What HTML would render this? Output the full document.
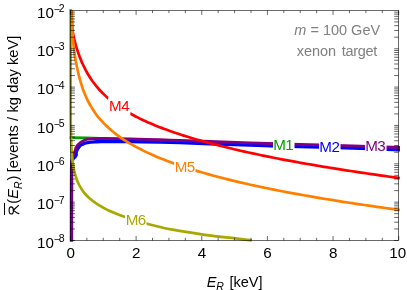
<!DOCTYPE html><html><head><meta charset="utf-8"><style>
html,body{margin:0;padding:0;background:#fff;}
#c{will-change:transform;position:relative;width:407px;height:290px;overflow:hidden;background:#fff;font-family:"Liberation Sans",sans-serif;color:#000;}
.t{position:absolute;white-space:nowrap;line-height:1;}
.xl{font-size:15.2px;transform:translateX(-50%);top:245.1px;}
.yl{font-size:15.2px;right:342.4px;}
.yl sup{font-size:10.5px;vertical-align:baseline;position:relative;top:-5.7px;margin-left:-0.1px}.yl sup b{font-weight:normal;margin-right:-1.2px;position:relative;top:0.5px}
.lab{font-size:15.2px;transform:translate(-50%,-50%);background:#fff;width:21.4px;height:17px;line-height:17px;text-align:center;letter-spacing:-0.5px;text-indent:-0.5px;box-shadow:0 2px 0 #fff;}
</style></head><body><div id="c">
<svg width="407" height="290" viewBox="0 0 407 290" style="position:absolute;left:0;top:0">
<rect x="0" y="0" width="407" height="290" fill="#fff"/>
<g fill="none" stroke-width="2.7" stroke-linejoin="round">
<path d="M69.50,137.60 C74.58,137.72 91.92,138.07 100.00,138.30 C108.08,138.53 115.00,138.88 118.00,139.00" stroke="#00a000" stroke-width="2.7"/>
<path d="M71.50,241.50 C71.50,234.58 71.48,211.92 71.50,200.00 C71.52,188.08 71.53,176.17 71.60,170.00 C71.67,163.83 71.68,164.83 71.90,163.00 C72.12,161.17 72.35,160.07 72.90,159.00 C73.45,157.93 74.65,157.28 75.20,156.60 C75.75,155.92 76.05,155.57 76.20,154.90 C76.35,154.23 75.92,153.48 76.10,152.60 C76.28,151.72 76.83,150.53 77.30,149.60 C77.77,148.67 78.28,147.78 78.90,147.00 C79.52,146.22 80.18,145.45 81.00,144.90 C81.82,144.35 82.72,144.07 83.80,143.70 C84.88,143.32 85.68,142.96 87.50,142.65 C89.32,142.34 92.35,142.03 94.70,141.85 C97.05,141.67 95.72,141.61 101.60,141.55 C107.48,141.49 120.27,141.42 130.00,141.50 C139.73,141.58 151.67,141.86 160.00,142.05 C168.33,142.24 171.67,142.38 180.00,142.65 C188.33,142.93 198.33,143.28 210.00,143.70 C221.67,144.12 235.00,144.67 250.00,145.15 C265.00,145.63 284.17,146.14 300.00,146.60 C315.83,147.06 328.33,147.38 345.00,147.90 C361.67,148.42 390.83,149.40 400.00,149.70" stroke="#0000ff" stroke-width="3.4"/>
<path d="M71.50,241.60 C71.50,234.67 71.48,212.77 71.50,200.00 C71.52,187.23 71.43,172.00 71.60,165.00 C71.77,158.00 72.10,159.90 72.50,158.00 C72.90,156.10 73.58,154.77 74.00,153.60 C74.42,152.43 74.60,152.15 75.00,151.00 C75.40,149.85 75.45,148.13 76.40,146.70 C77.35,145.27 79.38,143.46 80.70,142.40 C82.02,141.34 83.12,140.88 84.30,140.35 C85.48,139.82 86.10,139.47 87.80,139.20 C89.50,138.93 92.20,138.87 94.50,138.75 C96.80,138.63 98.18,138.53 101.60,138.50 C105.02,138.47 110.27,138.53 115.00,138.60 C119.73,138.67 122.50,138.71 130.00,138.90 C137.50,139.09 151.67,139.50 160.00,139.75 C168.33,140.00 171.67,140.11 180.00,140.40 C188.33,140.69 198.33,141.07 210.00,141.50 C221.67,141.93 235.00,142.47 250.00,142.95 C265.00,143.43 284.17,143.94 300.00,144.40 C315.83,144.86 328.33,145.18 345.00,145.70 C361.67,146.22 390.83,147.20 400.00,147.50" stroke="#800080" stroke-width="2.8"/>
<path d="M71.80,10.00 C71.83,11.67 71.89,16.67 72.00,20.00 C72.11,23.33 72.27,27.67 72.46,30.00 C72.65,32.33 72.90,32.67 73.15,34.00 C73.41,35.33 73.69,36.68 73.99,38.00 C74.29,39.32 74.60,40.60 74.93,41.90 C75.26,43.20 75.61,44.50 75.98,45.80 C76.35,47.10 76.76,48.42 77.17,49.70 C77.58,50.98 78.00,52.23 78.45,53.50 C78.90,54.77 79.37,56.03 79.86,57.30 C80.35,58.57 80.87,59.85 81.40,61.10 C81.93,62.35 82.49,63.58 83.06,64.80 C83.63,66.02 84.21,67.20 84.82,68.40 C85.43,69.60 86.07,70.82 86.73,72.00 C87.39,73.18 88.08,74.35 88.78,75.50 C89.48,76.65 90.21,77.78 90.96,78.90 C91.71,80.02 92.47,81.12 93.27,82.20 C94.06,83.28 94.89,84.35 95.73,85.40 C96.57,86.45 97.44,87.48 98.33,88.50 C99.22,89.52 100.15,90.52 101.09,91.50 C102.03,92.48 103.00,93.45 103.98,94.40 C104.97,95.35 105.97,96.28 107.00,97.20 C108.03,98.12 109.11,99.03 110.16,99.90 C111.21,100.77 112.25,101.58 113.31,102.40 C114.37,103.22 115.45,104.02 116.54,104.80 C117.63,105.58 118.74,106.35 119.86,107.10 C120.98,107.85 122.11,108.58 123.24,109.30 C124.37,110.02 125.48,110.70 126.66,111.40 C127.83,112.10 129.07,112.82 130.29,113.50 C131.50,114.18 132.73,114.85 133.95,115.50 C135.17,116.15 136.39,116.78 137.61,117.40 C138.83,118.02 140.01,118.60 141.26,119.20 C142.51,119.80 143.83,120.42 145.10,121.00 C146.37,121.58 147.64,122.15 148.90,122.70 C150.16,123.25 151.37,123.77 152.64,124.30 C153.91,124.83 155.26,125.38 156.54,125.90 C157.82,126.42 159.05,126.90 160.34,127.40 C161.63,127.90 163.00,128.42 164.29,128.90 C165.58,129.38 166.81,129.83 168.11,130.30 C169.41,130.77 170.77,131.25 172.06,131.70 C173.35,132.15 174.57,132.57 175.85,133.00 C177.13,133.43 178.44,133.87 179.76,134.30 C181.08,134.73 182.49,135.18 183.80,135.60 C185.11,136.02 186.34,136.40 187.64,136.80 C188.94,137.20 190.25,137.60 191.59,138.00 C192.93,138.40 194.28,138.80 195.65,139.20 C197.02,139.60 198.47,140.02 199.82,140.40 C201.17,140.78 202.42,141.13 203.75,141.50 C205.08,141.87 206.42,142.23 207.78,142.60 C209.14,142.97 210.51,143.33 211.90,143.70 C213.29,144.07 214.76,144.45 216.12,144.80 C217.48,145.15 218.73,145.47 220.05,145.80 C221.37,146.13 222.71,146.47 224.06,146.80 C225.41,147.13 226.77,147.47 228.15,147.80 C229.53,148.13 230.93,148.47 232.34,148.80 C233.75,149.13 235.25,149.48 236.61,149.80 C237.98,150.12 239.21,150.40 240.53,150.70 C241.85,151.00 243.18,151.30 244.52,151.60 C245.86,151.90 247.22,152.20 248.59,152.50 C249.96,152.80 251.34,153.10 252.73,153.40 C254.12,153.70 255.53,154.00 256.95,154.30 C258.37,154.60 259.80,154.90 261.24,155.20 C262.68,155.50 264.22,155.82 265.61,156.10 C267.00,156.38 268.24,156.63 269.57,156.90 C270.90,157.17 272.24,157.43 273.59,157.70 C274.94,157.97 276.30,158.23 277.67,158.50 C279.04,158.77 280.43,159.03 281.82,159.30 C283.21,159.57 284.62,159.83 286.04,160.10 C287.46,160.37 288.89,160.63 290.33,160.90 C291.77,161.17 293.23,161.43 294.69,161.70 C296.15,161.97 297.62,162.23 299.11,162.50 C300.60,162.77 302.19,163.05 303.61,163.30 C305.03,163.55 306.26,163.77 307.60,164.00 C308.94,164.23 310.29,164.47 311.65,164.70 C313.01,164.93 314.37,165.17 315.75,165.40 C317.13,165.63 318.52,165.87 319.91,166.10 C321.31,166.33 322.71,166.57 324.12,166.80 C325.53,167.03 326.96,167.27 328.39,167.50 C329.82,167.73 331.27,167.97 332.72,168.20 C334.17,168.43 335.64,168.67 337.11,168.90 C338.58,169.13 340.06,169.37 341.55,169.60 C343.04,169.83 344.54,170.07 346.05,170.30 C347.56,170.53 349.07,170.77 350.60,171.00 C352.13,171.23 353.78,171.48 355.21,171.70 C356.64,171.92 357.86,172.10 359.20,172.30 C360.54,172.50 361.89,172.70 363.24,172.90 C364.59,173.10 365.95,173.30 367.31,173.50 C368.67,173.70 370.04,173.90 371.42,174.10 C372.80,174.30 374.18,174.50 375.57,174.70 C376.96,174.90 378.36,175.10 379.76,175.30 C381.16,175.50 382.57,175.70 383.99,175.90 C385.41,176.10 386.83,176.30 388.26,176.50 C389.69,176.70 391.13,176.90 392.57,177.10 C394.01,177.30 395.72,177.53 396.92,177.70 C398.12,177.86 399.32,178.03 399.80,178.09" stroke="#ff0000" stroke-width="2.7"/>
<path d="M71.50,10.00 C71.60,13.00 71.85,23.00 72.10,28.00 C72.34,33.00 72.76,37.33 72.97,40.00 C73.18,42.67 73.23,42.67 73.38,44.00 C73.53,45.33 73.68,46.67 73.85,48.00 C74.02,49.33 74.19,50.67 74.38,52.00 C74.57,53.33 74.76,54.67 74.97,56.00 C75.18,57.33 75.39,58.67 75.62,60.00 C75.85,61.33 76.09,62.67 76.34,64.00 C76.59,65.33 76.86,66.67 77.14,68.00 C77.42,69.33 77.72,70.68 78.02,72.00 C78.32,73.32 78.64,74.60 78.97,75.90 C79.30,77.20 79.65,78.50 80.01,79.80 C80.38,81.10 80.76,82.40 81.16,83.70 C81.56,85.00 81.98,86.32 82.42,87.60 C82.86,88.88 83.31,90.13 83.79,91.40 C84.27,92.67 84.79,93.95 85.32,95.20 C85.85,96.45 86.40,97.68 86.97,98.90 C87.54,100.12 88.12,101.30 88.75,102.50 C89.38,103.70 90.05,104.92 90.74,106.10 C91.43,107.28 92.14,108.45 92.88,109.60 C93.62,110.75 94.39,111.88 95.19,113.00 C95.99,114.12 96.82,115.23 97.66,116.30 C98.50,117.37 99.34,118.38 100.22,119.40 C101.09,120.42 101.99,121.42 102.91,122.40 C103.83,123.38 104.78,124.35 105.75,125.30 C106.72,126.25 107.71,127.18 108.72,128.10 C109.73,129.02 110.78,129.92 111.83,130.80 C112.88,131.68 113.95,132.55 115.04,133.40 C116.13,134.25 117.24,135.08 118.36,135.90 C119.48,136.72 120.62,137.52 121.77,138.30 C122.92,139.08 124.09,139.85 125.26,140.60 C126.43,141.35 127.62,142.08 128.81,142.80 C130.00,143.52 131.19,144.22 132.39,144.90 C133.59,145.58 134.80,146.25 136.00,146.90 C137.20,147.55 138.41,148.18 139.61,148.80 C140.81,149.42 141.97,150.00 143.19,150.60 C144.41,151.20 145.69,151.82 146.93,152.40 C148.17,152.98 149.37,153.53 150.63,154.10 C151.89,154.67 153.22,155.25 154.49,155.80 C155.77,156.35 156.99,156.87 158.28,157.40 C159.57,157.93 160.92,158.48 162.21,159.00 C163.50,159.52 164.75,160.00 166.05,160.50 C167.35,161.00 168.73,161.52 170.03,162.00 C171.33,162.48 172.57,162.93 173.87,163.40 C175.17,163.87 176.55,164.35 177.84,164.80 C179.13,165.25 180.35,165.67 181.64,166.10 C182.93,166.53 184.23,166.97 185.56,167.40 C186.89,167.83 188.30,168.28 189.61,168.70 C190.92,169.12 192.14,169.50 193.44,169.90 C194.74,170.30 196.05,170.70 197.39,171.10 C198.72,171.50 200.08,171.90 201.45,172.30 C202.82,172.70 204.27,173.12 205.62,173.50 C206.97,173.88 208.22,174.23 209.54,174.60 C210.86,174.97 212.20,175.33 213.56,175.70 C214.92,176.07 216.29,176.43 217.68,176.80 C219.07,177.17 220.54,177.55 221.90,177.90 C223.26,178.25 224.51,178.57 225.83,178.90 C227.16,179.23 228.50,179.57 229.85,179.90 C231.20,180.23 232.57,180.57 233.95,180.90 C235.33,181.23 236.74,181.57 238.15,181.90 C239.56,182.23 241.07,182.58 242.44,182.90 C243.81,183.22 245.06,183.50 246.39,183.80 C247.72,184.10 249.06,184.40 250.41,184.70 C251.76,185.00 253.12,185.30 254.50,185.60 C255.88,185.90 257.27,186.20 258.68,186.50 C260.09,186.80 261.50,187.10 262.94,187.40 C264.38,187.70 265.91,188.02 267.29,188.30 C268.67,188.58 269.90,188.83 271.22,189.10 C272.54,189.37 273.88,189.63 275.22,189.90 C276.56,190.17 277.91,190.43 279.28,190.70 C280.65,190.97 282.03,191.23 283.42,191.50 C284.81,191.77 286.21,192.03 287.62,192.30 C289.03,192.57 290.45,192.83 291.89,193.10 C293.33,193.37 294.78,193.63 296.24,193.90 C297.70,194.17 299.18,194.43 300.66,194.70 C302.15,194.97 303.74,195.25 305.15,195.50 C306.56,195.75 307.80,195.97 309.14,196.20 C310.48,196.43 311.82,196.67 313.18,196.90 C314.54,197.13 315.91,197.37 317.29,197.60 C318.67,197.83 320.05,198.07 321.45,198.30 C322.85,198.53 324.25,198.77 325.67,199.00 C327.09,199.23 328.52,199.47 329.96,199.70 C331.40,199.93 332.84,200.17 334.30,200.40 C335.76,200.63 337.22,200.87 338.70,201.10 C340.18,201.33 341.66,201.57 343.16,201.80 C344.66,202.03 346.17,202.27 347.69,202.50 C349.21,202.73 350.85,202.98 352.28,203.20 C353.71,203.42 354.92,203.60 356.26,203.80 C357.60,204.00 358.95,204.20 360.30,204.40 C361.65,204.60 363.00,204.80 364.37,205.00 C365.74,205.20 367.11,205.40 368.49,205.60 C369.87,205.80 371.26,206.00 372.65,206.20 C374.04,206.40 375.44,206.60 376.84,206.80 C378.24,207.00 379.65,207.20 381.07,207.40 C382.49,207.60 383.91,207.80 385.34,208.00 C386.77,208.20 388.20,208.40 389.64,208.60 C391.08,208.80 392.52,209.00 393.97,209.20 C395.42,209.40 397.37,209.67 398.34,209.80 C399.31,209.93 399.56,209.97 399.80,210.00" stroke="#ff8000" stroke-width="2.7"/>
<path d="M70.60,9.00 C70.60,17.50 70.59,43.17 70.60,60.00 C70.61,76.83 70.62,99.17 70.65,110.00 C70.68,120.83 70.70,120.83 70.75,125.00 C70.80,129.17 70.86,131.67 70.95,135.00 C71.04,138.33 71.18,142.17 71.31,145.00 C71.44,147.83 71.57,149.83 71.73,152.00 C71.89,154.17 72.04,156.00 72.25,158.00 C72.46,160.00 72.70,162.00 73.00,164.00 C73.30,166.00 73.69,168.17 74.07,170.00 C74.45,171.83 74.81,173.33 75.29,175.00 C75.77,176.67 76.30,178.33 76.94,180.00 C77.58,181.67 78.29,183.33 79.16,185.00 C80.03,186.67 81.12,188.50 82.14,190.00 C83.16,191.50 84.08,192.67 85.25,194.00 C86.42,195.33 87.44,196.48 89.19,198.00 C90.94,199.52 92.55,201.02 95.78,203.10 C99.02,205.18 103.81,208.22 108.60,210.50 C113.39,212.78 119.93,215.17 124.50,216.80 C129.07,218.43 132.25,219.15 136.00,220.30 C139.75,221.45 143.00,222.58 147.00,223.70 C151.00,224.82 155.77,226.00 160.00,227.00 C164.23,228.00 164.93,228.40 172.40,229.70 C179.87,231.00 194.00,233.32 204.80,234.80 C215.60,236.28 229.37,237.68 237.20,238.60 C245.03,239.52 249.37,240.02 251.80,240.30" stroke="#a8a800" stroke-width="2.7"/>
</g>
<g stroke="#000" stroke-width="0.58" fill="none">
<rect x="70.45" y="10.40" width="328.25" height="230.10"/>
</g>
<path d="M70.45,240.50 v-4.50 M70.45,10.40 v4.50 M86.86,240.50 v-2.70 M86.86,10.40 v2.70 M103.28,240.50 v-2.70 M103.28,10.40 v2.70 M119.69,240.50 v-2.70 M119.69,10.40 v2.70 M136.10,240.50 v-4.50 M136.10,10.40 v4.50 M152.51,240.50 v-2.70 M152.51,10.40 v2.70 M168.93,240.50 v-2.70 M168.93,10.40 v2.70 M185.34,240.50 v-2.70 M185.34,10.40 v2.70 M201.75,240.50 v-4.50 M201.75,10.40 v4.50 M218.16,240.50 v-2.70 M218.16,10.40 v2.70 M234.57,240.50 v-2.70 M234.57,10.40 v2.70 M250.99,240.50 v-2.70 M250.99,10.40 v2.70 M267.40,240.50 v-4.50 M267.40,10.40 v4.50 M283.81,240.50 v-2.70 M283.81,10.40 v2.70 M300.23,240.50 v-2.70 M300.23,10.40 v2.70 M316.64,240.50 v-2.70 M316.64,10.40 v2.70 M333.05,240.50 v-4.50 M333.05,10.40 v4.50 M349.46,240.50 v-2.70 M349.46,10.40 v2.70 M365.88,240.50 v-2.70 M365.88,10.40 v2.70 M382.29,240.50 v-2.70 M382.29,10.40 v2.70 M398.70,240.50 v-4.50 M398.70,10.40 v4.50 M70.45,240.50 h4.50 M398.70,240.50 h-4.50 M70.45,228.96 h4.50 M398.70,228.96 h-4.50 M70.45,222.20 h4.50 M398.70,222.20 h-4.50 M70.45,217.41 h4.50 M398.70,217.41 h-4.50 M70.45,213.69 h4.50 M398.70,213.69 h-4.50 M70.45,210.66 h4.50 M398.70,210.66 h-4.50 M70.45,208.09 h4.50 M398.70,208.09 h-4.50 M70.45,205.87 h4.50 M398.70,205.87 h-4.50 M70.45,203.90 h4.50 M398.70,203.90 h-4.50 M70.45,202.15 h4.50 M398.70,202.15 h-4.50 M70.45,190.61 h4.50 M398.70,190.61 h-4.50 M70.45,183.85 h4.50 M398.70,183.85 h-4.50 M70.45,179.06 h4.50 M398.70,179.06 h-4.50 M70.45,175.34 h4.50 M398.70,175.34 h-4.50 M70.45,172.31 h4.50 M398.70,172.31 h-4.50 M70.45,169.74 h4.50 M398.70,169.74 h-4.50 M70.45,167.52 h4.50 M398.70,167.52 h-4.50 M70.45,165.55 h4.50 M398.70,165.55 h-4.50 M70.45,163.80 h4.50 M398.70,163.80 h-4.50 M70.45,152.26 h4.50 M398.70,152.26 h-4.50 M70.45,145.50 h4.50 M398.70,145.50 h-4.50 M70.45,140.71 h4.50 M398.70,140.71 h-4.50 M70.45,136.99 h4.50 M398.70,136.99 h-4.50 M70.45,133.96 h4.50 M398.70,133.96 h-4.50 M70.45,131.39 h4.50 M398.70,131.39 h-4.50 M70.45,129.17 h4.50 M398.70,129.17 h-4.50 M70.45,127.20 h4.50 M398.70,127.20 h-4.50 M70.45,125.45 h4.50 M398.70,125.45 h-4.50 M70.45,113.91 h4.50 M398.70,113.91 h-4.50 M70.45,107.15 h4.50 M398.70,107.15 h-4.50 M70.45,102.36 h4.50 M398.70,102.36 h-4.50 M70.45,98.64 h4.50 M398.70,98.64 h-4.50 M70.45,95.61 h4.50 M398.70,95.61 h-4.50 M70.45,93.04 h4.50 M398.70,93.04 h-4.50 M70.45,90.82 h4.50 M398.70,90.82 h-4.50 M70.45,88.85 h4.50 M398.70,88.85 h-4.50 M70.45,87.10 h4.50 M398.70,87.10 h-4.50 M70.45,75.56 h4.50 M398.70,75.56 h-4.50 M70.45,68.80 h4.50 M398.70,68.80 h-4.50 M70.45,64.01 h4.50 M398.70,64.01 h-4.50 M70.45,60.29 h4.50 M398.70,60.29 h-4.50 M70.45,57.26 h4.50 M398.70,57.26 h-4.50 M70.45,54.69 h4.50 M398.70,54.69 h-4.50 M70.45,52.47 h4.50 M398.70,52.47 h-4.50 M70.45,50.50 h4.50 M398.70,50.50 h-4.50 M70.45,48.75 h4.50 M398.70,48.75 h-4.50 M70.45,37.21 h4.50 M398.70,37.21 h-4.50 M70.45,30.45 h4.50 M398.70,30.45 h-4.50 M70.45,25.66 h4.50 M398.70,25.66 h-4.50 M70.45,21.94 h4.50 M398.70,21.94 h-4.50 M70.45,18.91 h4.50 M398.70,18.91 h-4.50 M70.45,16.34 h4.50 M398.70,16.34 h-4.50 M70.45,14.12 h4.50 M398.70,14.12 h-4.50 M70.45,12.15 h4.50 M398.70,12.15 h-4.50" stroke="#000" stroke-width="0.6" fill="none"/>
</svg>
<div class="t xl" style="left:70.7px">0</div>
<div class="t xl" style="left:136.3px">2</div>
<div class="t xl" style="left:201.9px">4</div>
<div class="t xl" style="left:267.6px">6</div>
<div class="t xl" style="left:333.2px">8</div>
<div class="t xl" style="left:397.7px">10</div>
<div class="t yl" style="top:234.8px">10<sup><b>−</b>8</sup></div>
<div class="t yl" style="top:196.4px">10<sup><b>−</b>7</sup></div>
<div class="t yl" style="top:158.1px">10<sup><b>−</b>6</sup></div>
<div class="t yl" style="top:119.7px">10<sup><b>−</b>5</sup></div>
<div class="t yl" style="top:81.4px">10<sup><b>−</b>4</sup></div>
<div class="t yl" style="top:43.0px">10<sup><b>−</b>3</sup></div>
<div class="t yl" style="top:4.7px">10<sup><b>−</b>2</sup></div>
<div class="t lab" style="left:283.5px;top:143.6px;color:#00a000">M1</div>
<div class="t lab" style="left:329.6px;top:146.0px;color:#0000ff">M2</div>
<div class="t lab" style="left:375.5px;top:145.2px;color:#800080">M3</div>
<div class="t lab" style="left:119.3px;top:104.8px;color:#ff0000">M4</div>
<div class="t lab" style="left:185.0px;top:166.2px;color:#ff8000">M5</div>
<div class="t lab" style="left:136.0px;top:219.4px;color:#a8a800">M6</div>
<div class="t" style="font-size:14.5px;color:#808080;left:337.2px;top:22.85px;transform-origin:50% 84.65%;transform:translateX(-50%) scaleY(1.06)"><i>m</i> = 100 GeV</div>
<div class="t" style="font-size:14.5px;color:#808080;left:336.8px;top:44.0px;transform-origin:50% 84.65%;transform:translateX(-50%) scaleY(1.06)">xenon <span style="letter-spacing:-0.3px;margin-left:1.5px">target</span></div>
<div class="t" style="font-size:14.5px;left:234.6px;top:274.5px;transform-origin:50% 84.65%;transform:translateX(-50%) scaleY(1.04)"><i>E</i><i style="font-size:10.5px;position:relative;top:2.5px;margin-left:-0.1px;margin-right:1.6px">R</i> [keV]</div>
<div class="t" style="font-size:14.6px;word-spacing:0.25px;left:13.3px;top:124.9px;transform:translate(-50%,-50%) rotate(-90deg);"><span style="display:inline-block;width:10.6px;height:10px;position:relative"><svg width="14" height="17" viewBox="-1 -15 14 17" style="position:absolute;left:-1px;top:-5px;overflow:visible"><g transform="translate(0,-8.7) scale(0.93)"><path d="M4.4,4.7 C1.6,5.0 0.1,3.9 0.25,2.4 C0.4,0.8 2.4,0.1 4.4,0.1 C6.7,0.1 8.0,1.0 7.9,2.3 C7.8,3.8 6.2,4.7 4.2,4.7 M4.3,4.5 C3.0,6.2 1.2,8.0 0.6,10.6 M4.0,4.6 C5.6,5.6 7.0,7.8 9.6,10.2" fill="none" stroke="#000" stroke-width="1.2" stroke-linecap="round"/></g><path d="M-0.8,-13.2 H11.3" stroke="#000" stroke-width="1"/></svg></span>(<i>E</i><i style="font-size:10.5px;position:relative;top:3.5px">R</i><span style="margin-left:1px;margin-right:-1px">)</span> [events / kg day keV]</div>
</div></body></html>
